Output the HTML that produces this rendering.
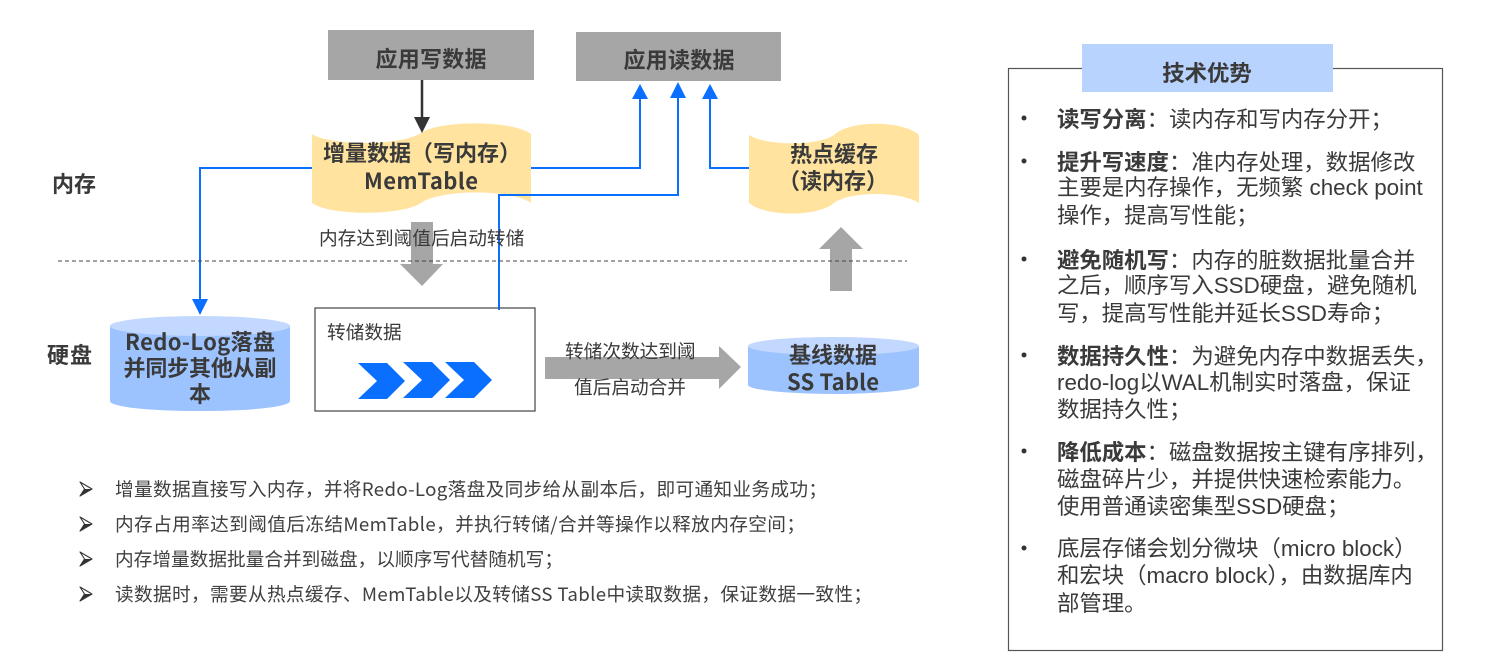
<!DOCTYPE html>
<html lang="zh-CN">
<head>
<meta charset="utf-8">
<title>技术优势</title>
<style>
html,body{margin:0;padding:0;background:#fff;width:1495px;height:661px;overflow:hidden}
svg{display:block}
text{font-family:"Liberation Sans","Noto Sans CJK SC",sans-serif;fill:#3a3a3a}
.b{font-weight:700}
.r{font-size:22.4px}
.l{font-size:18.67px;font-family:"Noto Sans CJK SC",sans-serif;fill:#404040}
.m{font-size:18.67px;font-family:"Noto Sans CJK SC",sans-serif}
.h{font-size:22px;font-weight:700;font-family:"Noto Sans CJK SC",sans-serif}
</style>
</head>
<body>
<svg width="1495" height="661" viewBox="0 0 1495 661" xmlns="http://www.w3.org/2000/svg">
<defs>
<g id="ar"><path d="M80 -7L92 0L80 7L84.500 0Z" fill="#fff" stroke="#333" stroke-width="1.100" stroke-linejoin="round"/><path d="M92 0L80 7L84.500 0Z" fill="#333"/></g>
</defs>
<rect x="328" y="30" width="206" height="50" fill="#a6a6a6"/>
<rect x="576" y="32" width="205" height="49" fill="#a6a6a6"/>
<text class="h" x="431" y="67" text-anchor="middle" textLength="111">应用写数据</text>
<text class="h" x="679" y="68" text-anchor="middle" textLength="111">应用读数据</text>

<path d="M312 134C330 146 402 146 421 133C440 120 512 120 531 134V203C512 189 440 189 421 203C402 216 330 216 312 203Z" fill="#ffe39f"/>
<path d="M749 135C766 146 818 146 834 135C850 120 902 120 919 135V203C902 191 850 191 834 203C818 217 766 217 749 203Z" fill="#ffe39f"/>

<path d="M422 80V119" stroke="#333" stroke-width="2.500" fill="none"/>
<path d="M414 117H430L422 133Z" fill="#333"/>

<g stroke="#0a6fff" stroke-width="2" fill="none">
<path d="M531 168H640V96"/>
<path d="M499 308V195H678V96"/>
<path d="M749 168H710V96"/>
<path d="M312 168H200V301"/>
</g>
<g fill="#0a6fff">
<path d="M632 99L640 84L648 99Z"/>
<path d="M670 98L678 82L686 98Z"/>
<path d="M702 99L710 84L718 99Z"/>
<path d="M192 299H208L200 315Z"/>
</g>

<text class="h" x="323" y="161">增量数据（写内存）</text>
<text class="h" x="421" y="189" text-anchor="middle" textLength="114">MemTable</text>
<text class="h" x="834" y="162" text-anchor="middle" textLength="88">热点缓存</text>
<text class="h" x="833" y="189" text-anchor="middle">（读内存）</text>

<text class="h" x="52" y="192" textLength="44">内存</text>
<text class="h" x="47" y="363" textLength="45">硬盘</text>

<path d="M411 222H433V264H443L422 286L400 264H411Z" fill="#a6a6a6"/>
<path d="M830 291V249H819L841 227L863 249H852V291Z" fill="#a6a6a6"/>
<path d="M545 357H719V346L741 367L719 389V379H545Z" fill="#a6a6a6"/>

<line x1="58" y1="261" x2="907" y2="261" stroke="#444" stroke-width="1" stroke-dasharray="4 3"/>

<text class="m" x="319" y="245">内存达到阈值后启动转储</text>

<path d="M110 326V401C110 407 150 411 200 411C250 411 290 407 290 401V326Z" fill="#9dc3ff"/>
<ellipse cx="200" cy="326" rx="90" ry="10" fill="#c2d8ff"/>
<text class="h" x="200" y="350" text-anchor="middle" textLength="150">Redo-Log落盘</text>
<text class="h" x="200" y="376" text-anchor="middle" textLength="153">并同步其他从副</text>
<text class="h" x="200" y="402" text-anchor="middle">本</text>

<rect x="315" y="308" width="220" height="103" fill="#fff" stroke="#444" stroke-width="1.200"/>
<path d="M499 308V310" stroke="#0a6fff" stroke-width="2"/>
<text class="m" x="327" y="339">转储数据</text>
<g fill="#0a6fff">
<path d="M358 399L377 381L358 363H387L405 381L387 399Z"/>
<path d="M403 398L422 380L403 362H432L450 380L432 398Z"/>
<path d="M445 398L464 380L445 362H474L492 380L474 398Z"/>
</g>

<path d="M748 346V385C748 390 790 394 833 394C876 394 919 390 919 385V346Z" fill="#9dc3ff"/>
<ellipse cx="833.500" cy="346" rx="85.500" ry="9" fill="#c2d8ff"/>
<text class="h" x="833" y="363" text-anchor="middle" textLength="88">基线数据</text>
<text class="h" x="833" y="390" text-anchor="middle" textLength="92">SS Table</text>

<text class="m" x="565" y="358">转储次数达到阈</text>
<text class="m" x="574" y="394">值后启动合并</text>

<use href="#ar" y="489"/>
<use href="#ar" y="524"/>
<use href="#ar" y="559"/>
<use href="#ar" y="594"/>
<text class="l" x="115" y="496" textLength="712">增量数据直接写入内存，并将Redo-Log落盘及同步给从副本后，即可通知业务成功；</text>
<text class="l" x="115" y="531" textLength="690">内存占用率达到阈值后冻结MemTable，并执行转储/合并等操作以释放内存空间；</text>
<text class="l" x="115" y="566" textLength="448">内存增量数据批量合并到磁盘，以顺序写代替随机写；</text>
<text class="l" x="115" y="601" textLength="757">读数据时，需要从热点缓存、MemTable以及转储SS Table中读取数据，保证数据一致性；</text>

<rect x="1008.500" y="68.500" width="434" height="582" fill="#fff" stroke="#555" stroke-width="1.200"/>
<rect x="1082" y="44" width="251" height="48" fill="#b9d3ff"/>
<text class="b r" x="1207" y="81" text-anchor="middle">技术优势</text>

<g fill="#333">
<circle cx="1024" cy="118" r="2.500"/>
<circle cx="1024" cy="161" r="2.500"/>
<circle cx="1024" cy="259" r="2.500"/>
<circle cx="1024" cy="355" r="2.500"/>
<circle cx="1024" cy="451" r="2.500"/>
<circle cx="1024" cy="548" r="2.500"/>
</g>

<text class="r" x="1057" y="127"><tspan class="b">读写分离</tspan>：读内存和写内存分开；</text>
<text class="r" x="1057" y="170"><tspan class="b">提升写速度</tspan>：准内存处理，数据修改</text>
<text class="r" x="1057" y="195">主要是内存操作，无频繁 check point</text>
<text class="r" x="1057" y="223">操作，提高写性能；</text>

<text class="r" x="1057" y="268"><tspan class="b">避免随机写</tspan>：内存的脏数据批量合并</text>
<text class="r" x="1057" y="293">之后，顺序写入SSD硬盘，避免随机</text>
<text class="r" x="1057" y="321">写，提高写性能并延长SSD寿命；</text>

<text class="r" x="1057" y="364"><tspan class="b">数据持久性</tspan>：为避免内存中数据丢失，</text>
<text class="r" x="1057" y="390">redo-log以WAL机制实时落盘，保证</text>
<text class="r" x="1057" y="417">数据持久性；</text>

<text class="r" x="1057" y="460"><tspan class="b">降低成本</tspan>：磁盘数据按主键有序排列，</text>
<text class="r" x="1057" y="487">磁盘碎片少，并提供快速检索能力。</text>
<text class="r" x="1057" y="514">使用普通读密集型SSD硬盘；</text>

<text class="r" x="1057" y="556">底层存储会划分微块（micro block）</text>
<text class="r" x="1057" y="583">和宏块（macro block），由数据库内</text>
<text class="r" x="1057" y="611">部管理。</text>
</svg>
</body>
</html>
